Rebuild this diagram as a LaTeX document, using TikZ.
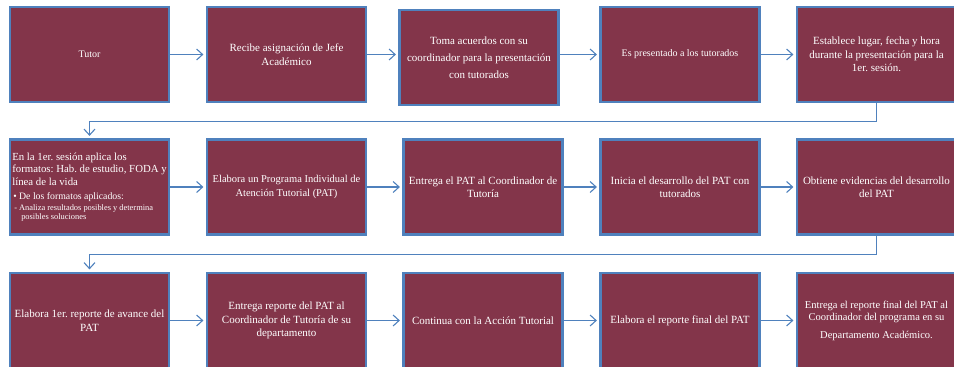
\documentclass[tikz,border=0pt]{standalone}
\usepackage{fontspec}
\setmainfont{Liberation Serif}
\usetikzlibrary{arrows.meta, positioning}

\definecolor{boxfill}{RGB}{131,53,74}
\definecolor{boxline}{RGB}{79,129,189}
\frenchspacing

\begin{document}
\begin{tikzpicture}[x=1pt, y=1pt,
  stepbox/.style={draw=boxline, line width=2.2pt, fill=boxfill, text=white,
    minimum width=159pt, minimum height=95pt, inner sep=1.5pt, align=center,
    font=\fontsize{11}{13.5}\selectfont},
  link/.style={boxline, line width=1.1pt, -{Straight Barb[length=6pt,width=11pt]}, shorten >=2.5pt}
]
  \useasboundingbox (0,0) rectangle (954,367);
  \def\ya{312.5}
  \def\yb{180}
  \def\yc{46.5}

  % Row 1
  \node[stepbox, font=\fontsize{10}{12}\selectfont] (tutor) at (89.5,\ya) {Tutor};
  \node[stepbox] (recibe) at (286.5,\ya) {Recibe asignación de Jefe\\ Académico};
  \node[stepbox, font=\fontsize{11}{17}\selectfont] (acuerdos) at (479,\ya-3) {Toma acuerdos con su\\ coordinador para la presentación\\ con tutorados};
  \node[stepbox, font=\fontsize{10}{12}\selectfont] (presenta) at (680,\ya) {Es presentado a los tutorados};
  \node[stepbox] (establece) at (876.5,\ya) {Establece lugar, fecha y hora\\ durante la presentación para la\\ 1er. sesión.};

  % Row 2
  \node[stepbox, align=left, font=\fontsize{10.8}{13}\selectfont] (aplica) at (89.5,\yb)
    {En la 1er. sesión aplica los\\[-1.5pt] formatos: Hab. de estudio, FODA y\\ línea de la vida\\[1pt]
     {\fontsize{9.8}{11}\selectfont\hspace{1pt}• De los formatos aplicados:}\\[-2pt]
     {\fontsize{8.4}{9.5}\selectfont\hspace{2pt}- Analiza resultados posibles y determina}\\[-4pt]
     {\fontsize{8.4}{9.5}\selectfont\hspace{9pt}posibles soluciones}};
  \node[stepbox, font=\fontsize{10.5}{14}\selectfont] (elabora) at (286.5,\yb) {Elabora un Programa Individual de\\ Atención Tutorial (PAT)};
  \node[stepbox] (entrega) at (483,\yb) {Entrega el PAT al Coordinador de\\ Tutoría};
  \node[stepbox] (inicia) at (680,\yb) {Inicia el desarrollo del PAT con\\ tutorados};
  \node[stepbox] (evidencias) at (876.5,\yb) {Obtiene evidencias del desarrollo\\ del PAT};

  % Row 3
  \node[stepbox] (reporte) at (89.5,\yc) {Elabora 1er. reporte de avance del\\ PAT};
  \node[stepbox] (entregarep) at (286.5,\yc) {Entrega reporte del PAT al\\ Coordinador de Tutoría de su\\ departamento};
  \node[stepbox] (continua) at (483,\yc) {Continua con la Acción Tutorial};
  \node[stepbox] (final) at (680,\yc) {Elabora el reporte final del PAT};
  \node[stepbox, font=\fontsize{10.5}{12}\selectfont] (entregafin) at (876.5,\yc) {Entrega el reporte final del PAT al\\ Coordinador del programa en su\\[6pt] Departamento Académico.};

  % Connectors
  \draw[link] (tutor.east) -- (recibe.west);
  \draw[link] (recibe.east) -- (acuerdos.west |- recibe.east);
  \draw[link] (acuerdos.east |- presenta.west) -- (presenta.west);
  \draw[link] (presenta.east) -- (establece.west);
  \draw[link] (establece.south) -- ++(0,-18.5) -| (aplica.north);
  \draw[link] (aplica.east) -- (elabora.west);
  \draw[link] (elabora.east) -- (entrega.west);
  \draw[link] (entrega.east) -- (inicia.west);
  \draw[link] (inicia.east) -- (evidencias.west);
  \draw[link] (evidencias.south) -- ++(0,-19) -| (reporte.north);
  \draw[link] (reporte.east) -- (entregarep.west);
  \draw[link] (entregarep.east) -- (continua.west);
  \draw[link] (continua.east) -- (final.west);
  \draw[link] (final.east) -- (entregafin.west);
\end{tikzpicture}
\end{document}
